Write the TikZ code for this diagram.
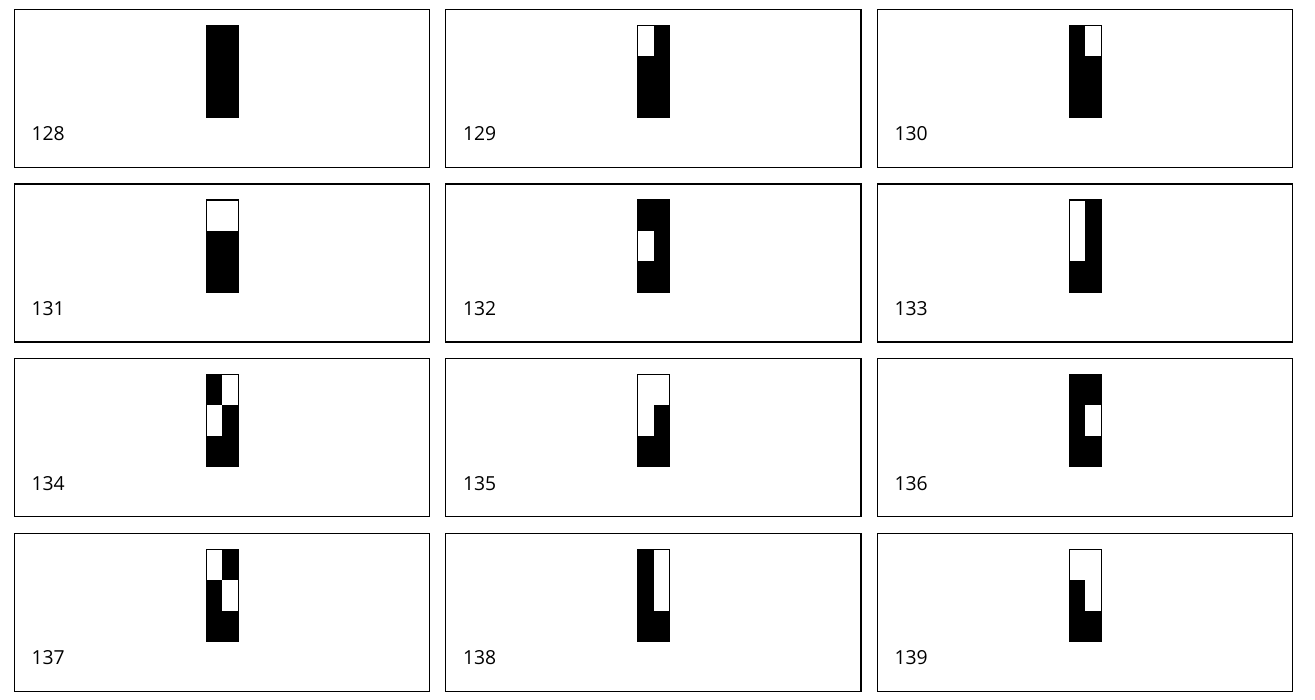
\documentclass[tikz,border=0pt]{standalone}
\usepackage{fontspec}
\setmainfont{Open Sans}
\begin{document}
\begin{tikzpicture}[x=0.75pt,y=-0.75pt,
  panel/.style={draw=black, line width=0.95pt},
  glyph/.style={fill=black},
  dotcell/.style={fill=white},
  outline/.style={draw=black, line width=0.8pt},
  lbl/.style={anchor=base west, inner sep=0pt, font=\fontsize{14.5}{17}\selectfont}]
\useasboundingbox (0,0) rectangle (1315,700);
\foreach \n [count=\i from 0] in {128,...,139} {
  \pgfmathtruncatemacro\col{mod(\i,3)}
  \pgfmathtruncatemacro\row{div(\i,3)}
  \pgfmathsetmacro\px{14.3+431.5*\col}
  \pgfmathsetmacro\py{9.3+174.67*\row}
  \pgfmathtruncatemacro\b{\n-128}
  \draw[panel] (\px,\py) rectangle ++(415.3,158);
  \fill[glyph] (\px+192,\py+16) rectangle ++(32,92);
  \foreach \k in {0,1,2,3} {
    \pgfmathtruncatemacro\bit{mod(div(\b,2^\k),2)}
    \pgfmathtruncatemacro\cx{mod(\k,2)}
    \pgfmathtruncatemacro\cy{div(\k,2)}
    \ifnum\bit=1
      \fill[dotcell] (\px+192+16*\cx,\py+16+30.667*\cy) rectangle ++(16,30.667);
    \fi
  }
  \draw[outline] (\px+192,\py+16) rectangle ++(32,92);
  \node[lbl] (lab\n) at (\px+17,\py+131.5) {\n};
}
\end{tikzpicture}
\end{document}
